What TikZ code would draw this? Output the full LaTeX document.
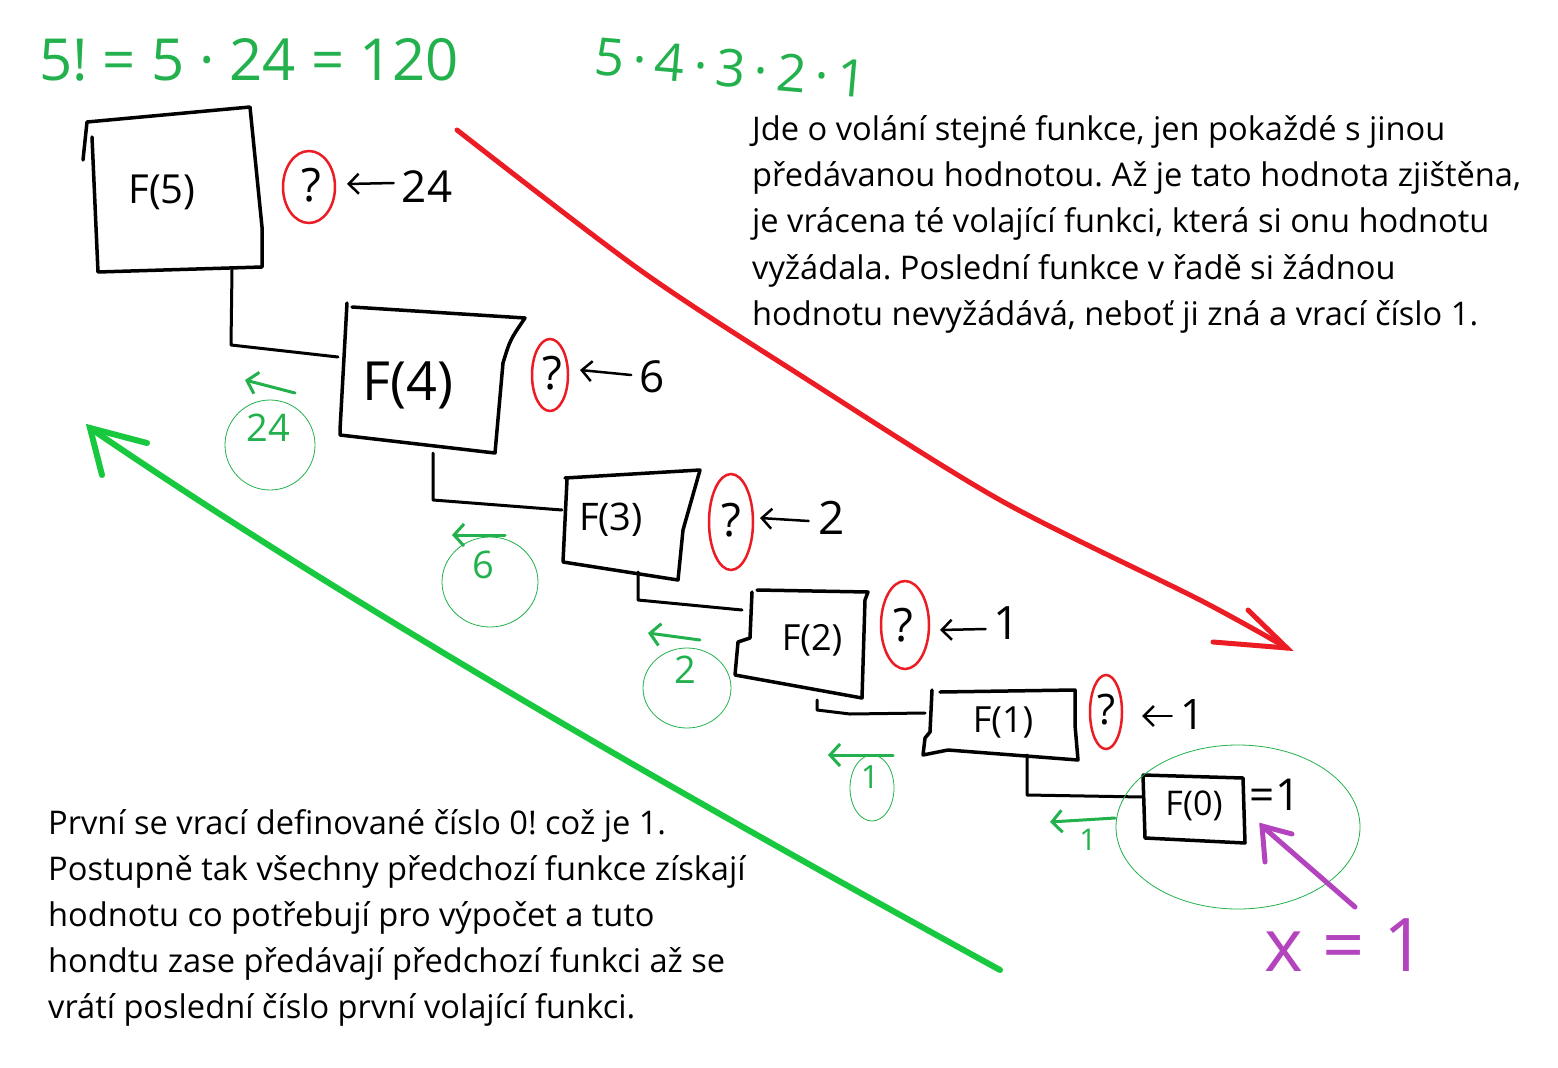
\documentclass[tikz,border=0pt]{standalone}
\usepackage{fontspec}
\setmainfont{Open Sans}
\usetikzlibrary{arrows.meta}
\definecolor{pgreen}{RGB}{34,177,76}
\definecolor{bgreen}{RGB}{24,200,62}
\definecolor{pred}{RGB}{236,28,36}
\definecolor{ppurple}{RGB}{180,68,190}
\frenchspacing
\begin{document}
\begin{tikzpicture}[x=1pt,y=-1pt,
  box/.style={line width=3.5pt,line join=round,line cap=round},
  link/.style={line width=3pt,line join=round,line cap=round},
  lbl/.style={inner sep=0pt},
  qcirc/.style={pred,line width=2.5pt},
  qmark/.style={inner sep=0pt,font=\fontsize{46}{46}\selectfont},
  barrow/.style={line width=2.5pt,line cap=round,-{Straight Barb[length=10pt,width=20pt,line width=2.5pt]}},
  garrow/.style={pgreen,line width=3pt,line cap=round,-{Straight Barb[length=10pt,width=22pt,line width=3pt]}},
  gnum/.style={pgreen,inner sep=0pt,font=\fontsize{38}{38}\selectfont},
  gcirc/.style={pgreen,line width=0.8pt},
  para/.style={inner sep=0pt,anchor=base west,font=\fontsize{32.6}{32.6}\selectfont},
]
\useasboundingbox[fill=white] (0,0) rectangle (1558,1068);

% ---- top green formulas
\node[lbl,pgreen,font=\fontsize{58}{58}\selectfont] (fact) at (249,60) {5! = 5 · 24 = 120};
\node[lbl,pgreen,font=\fontsize{52}{52}\selectfont,rotate=-5] (prod) at (731,68) {5\,·\,4\,·\,3\,·\,2\,·\,1};

% ---- F(5)
\draw[box] (92,137) -- (98,272) -- (262,267) -- (262,227) -- (250,107) -- (87,122) -- (83,160);
\node[lbl,font=\fontsize{40}{40}\selectfont] (f5) at (162,192) {F(5)};
\coordinate (f5b) at (232,270);
\draw[qcirc] (309,187) ellipse [x radius=26,y radius=36];
\node[qmark] (q5) at (311,185) {?};
\node[lbl,font=\fontsize{44}{44}\selectfont] (v5) at (427,187) {24};
\draw[barrow] (v5.west) ++(-8,-4) -- (347,184);

% ---- F(4)
\draw[box] (347,303) -- (340,430) -- (340,435) -- (495,453) -- (503,363) .. controls (510,340) .. (525,318) -- (352,307);
\node[lbl,font=\fontsize{54}{54}\selectfont] (f4) at (408,385) {F(4)};
\coordinate (f4l) at (338,357);
\coordinate (f4b) at (433,453);
\draw[link] (f5b) -- (231,345) -- (f4l);
\draw[qcirc] (550,375) ellipse [x radius=18,y radius=36];
\node[qmark] (q4) at (552,373) {?};
\node[lbl,font=\fontsize{44}{44}\selectfont] (v4) at (652,377) {6};
\draw[barrow] (v4.west) ++(-8,-2) -- (580,370);

% ---- F(3)
\draw[box] (567,480) -- (563,562) -- (678,580) -- (683,530) -- (700,470) -- (565,478);
\node[lbl,font=\fontsize{38}{38}\selectfont] (f3) at (611,520) {F(3)};
\coordinate (f3l) at (562,510);
\coordinate (f3b) at (638,572);
\draw[link] (f4b) -- (433,500) -- (f3l);
\draw[qcirc] (731,522) ellipse [x radius=22,y radius=48];
\node[qmark] (q3) at (731,520) {?};
\node[lbl,font=\fontsize{46}{46}\selectfont] (v3) at (832,518) {2};
\draw[barrow] (v3.west) ++(-10,3) -- (760,518);

% ---- F(2)
\draw[box] (752,592) -- (750,638) -- (738,642) -- (735,675) -- (862,698) -- (865,600) -- (868,592) -- (757,590);
\node[lbl,font=\fontsize{36}{36}\selectfont] (f2) at (812,640) {F(2)};
\coordinate (f2l) at (742,610);
\coordinate (f2b) at (817,700);
\draw[link] (f3b) -- (638,600) -- (f2l);
\draw[qcirc] (905,625) ellipse [x radius=24,y radius=44];
\node[qmark] (q2) at (903,625) {?};
\node[lbl,font=\fontsize{46}{46}\selectfont] (v2) at (1007,623) {1};
\draw[barrow] (v2.west) ++(-8,6) -- (940,630);

% ---- F(1)
\draw[box] (932,690) -- (930,732) -- (925,738) -- (923,755) -- (948,750) -- (1078,760) -- (1075,725) -- (1075,690) -- (940,692);
\node[lbl,font=\fontsize{36}{36}\selectfont] (f1) at (1003,722) {F(1)};
\coordinate (f1l) at (925,713);
\coordinate (f1b) at (1027,755);
\draw[link] (f2b) -- (817,710) -- (850,714) -- (f1l);
\draw[qcirc] (1106,712) ellipse [x radius=16,y radius=37];
\node[qmark,font=\fontsize{42}{42}\selectfont] (q1) at (1106,710) {?};
\node[lbl,font=\fontsize{42}{42}\selectfont] (v1) at (1192,714) {1};
\draw[barrow] (v1.west) ++(-8,2) -- (1142,716);

% ---- F(0)
\draw[box] (1143,775) -- (1145,838) -- (1245,843) -- (1243,778) -- (1143,775);
\node[lbl,font=\fontsize{34}{34}\selectfont] (f0) at (1194,806) {F(0)};
\coordinate (f0l) at (1143,797);
\draw[link] (f1b) -- (1027,795) -- (f0l);
\node[lbl,font=\fontsize{44}{44}\selectfont] (e0) at (1275,795) {=1};
\draw[gcirc] (1238,827) ellipse [x radius=122,y radius=82];

% ---- green returned values
\draw[garrow] (295,393) -- (245,380);
\node[gnum] (r24) at (268,428) {24};
\draw[gcirc] (270,445) ellipse [x radius=45,y radius=45];

\draw[garrow] (505,535) -- (452,535);
\node[gnum] (r6) at (483,565) {6};
\draw[gcirc] (490,582) ellipse [x radius=48,y radius=45];

\draw[garrow] (700,640) -- (648,633);
\node[gnum] (r2) at (685,670) {2};
\draw[gcirc] (687,688) ellipse [x radius=44,y radius=40];

\draw[garrow] (893,755) -- (828,755);
\node[gnum,font=\fontsize{32}{32}\selectfont] (r1a) at (870,777) {1};
\draw[gcirc] (872,788) ellipse [x radius=22,y radius=33];

\draw[garrow] (1115,818) -- (1050,822);
\node[gnum,font=\fontsize{30}{30}\selectfont] (r1b) at (1088,840) {1};

% ---- big red and green arrows
\coordinate (rs) at (457,130);
\coordinate (re) at (1287,648);
\draw[pred,line width=5pt,line cap=round,line join=round] plot[smooth,tension=0.5] coordinates {(rs) (640,270) (800,375) (1000,500) (1200,600) (re)};
\draw[pred,line width=5pt,line cap=round] (1213,642) -- (re) -- (1248,610);

\coordinate (gs) at (1000,970);
\coordinate (ge) at (90,428);
\draw[bgreen,line width=6pt,line cap=round] (gs) .. controls (800,860) and (400,640) .. (ge);
\draw[bgreen,line width=6pt,line cap=round] (147,443) -- (ge) -- (102,475);

% ---- purple
\coordinate (ps) at (1355,907);
\coordinate (pe) at (1262,826);
\draw[ppurple,line width=5pt,line cap=round] (ps) -- (pe);
\draw[ppurple,line width=5pt,line cap=round] (1265,862) -- (pe) -- (1292,834);
\node[lbl,ppurple,font=\fontsize{74}{74}\selectfont] (x1) at (1345,945) {x = 1};

% ---- paragraphs
\node[para] (a1) at (752,140) {Jde o volání stejné funkce, jen pokaždé s jinou};
\node[para] (a2) at (752,186) {předávanou hodnotou. Až je tato hodnota zjištěna,};
\node[para] (a3) at (752,232) {je vrácena té volající funkci, která si onu hodnotu};
\node[para] (a4) at (752,279) {vyžádala. Poslední funkce v řadě si žádnou};
\node[para] (a5) at (752,325) {hodnotu nevyžádává, neboť ji zná a vrací číslo 1.};

\node[para] (b1) at (48,834) {První se vrací definované číslo 0! což je 1.};
\node[para] (b2) at (48,880) {Postupně tak všechny předchozí funkce získají};
\node[para] (b3) at (48,926) {hodnotu co potřebují pro výpočet a tuto};
\node[para] (b4) at (48,972) {hondtu zase předávají předchozí funkci až se};
\node[para] (b5) at (48,1018) {vrátí poslední číslo první volající funkci.};
\end{tikzpicture}
\end{document}
